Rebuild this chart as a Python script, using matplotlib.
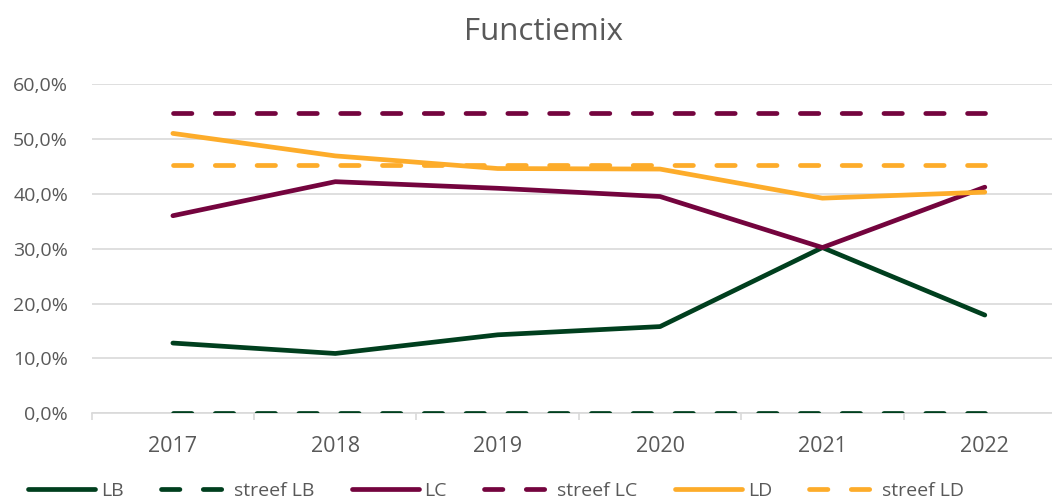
import matplotlib
matplotlib.use("Agg")
import matplotlib.pyplot as plt
from matplotlib.ticker import FuncFormatter, FixedLocator

years = ["2017", "2018", "2019", "2020", "2021", "2022"]
lb = [12.8, 10.9, 14.3, 15.8, 30.2, 17.9]
streef_lb = [0.0, 0.0, 0.0, 0.0, 0.0, 0.0]
lc = [36.0, 42.2, 41.0, 39.5, 30.2, 41.2]
streef_lc = [54.7, 54.7, 54.7, 54.7, 54.7, 54.7]
ld = [51.0, 46.9, 44.6, 44.5, 39.2, 40.3]
streef_ld = [45.3, 45.3, 45.3, 45.3, 45.3, 45.3]

c_lb = "#003F1E"
c_lc = "#74043E"
c_ld = "#FDAC2A"
txt = "#595959"

plt.rcParams['font.family'] = ['Open Sans', 'DejaVu Sans']

W, H = 1052, 499
fig = plt.figure(figsize=(W / 100, H / 100), dpi=100)
ax = fig.add_axes([91.7 / W, 85.7 / H, (1066 - 91.7) / W, (413.3 - 84) / H])

x = list(range(len(years)))
lw = 3.4
dash = (3.9, 4.95)
ax.plot(x, lb, color=c_lb, lw=lw, solid_capstyle='round', solid_joinstyle='round', label="LB", zorder=3)
ax.plot(x, streef_lb, color=c_lb, lw=lw, ls=(0, dash), dash_capstyle='round', label="streef LB", zorder=3)
ax.plot(x, lc, color=c_lc, lw=lw, solid_capstyle='round', solid_joinstyle='round', label="LC", zorder=3)
ax.plot(x, streef_lc, color=c_lc, lw=lw, ls=(0, dash), dash_capstyle='round', label="streef LC", zorder=3)
ax.plot(x, ld, color=c_ld, lw=lw, solid_capstyle='round', solid_joinstyle='round', label="LD", zorder=3)
ax.plot(x, streef_ld, color=c_ld, lw=lw, ls=(0, dash), dash_capstyle='round', label="streef LD", zorder=3)

ax.set_xlim(-0.5, len(years) - 0.5)
ax.set_ylim(0, 60)
ax.set_yticks(range(0, 61, 10))
ax.yaxis.set_major_formatter(FuncFormatter(lambda v, p: f"{v:.1f}%".replace(".", ",")))
ax.set_xticks(x)
ax.set_xticklabels(years)
ax.xaxis.set_minor_locator(FixedLocator([i - 0.5 for i in range(len(years) + 1)]))

ax.grid(axis='y', color="#D9D9D9", lw=1.2, zorder=0)
for s in ["top", "right", "left"]:
    ax.spines[s].set_visible(False)
ax.spines["bottom"].set_color("#D9D9D9")
ax.spines["bottom"].set_linewidth(1.2)

ax.tick_params(axis='y', length=0, pad=17, labelsize=14, labelcolor=txt)
ax.tick_params(axis='x', which='major', length=0, pad=16, labelsize=15.5, labelcolor=txt)
ax.tick_params(axis='x', which='minor', length=5, width=1.2, color="#D9D9D9")

fig.text(543 / W, 1 - 40 / H, "Functiemix", ha='center', va='baseline', fontsize=22.5, color=txt)

fs = 14
fs_px = fs * 100 / 72
leg = fig.legend(loc='center left', bbox_to_anchor=((18.3 - 0.4 * fs_px) / W, 1 - 491 / H),
                 ncol=6, frameon=False, fontsize=fs, labelcolor=txt,
                 handlelength=3.45, handletextpad=0.3, columnspacing=1.92)

fig.savefig("out.png", dpi=100)
